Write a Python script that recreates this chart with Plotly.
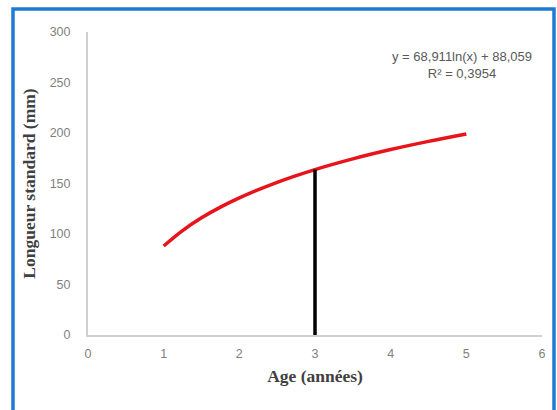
import plotly.graph_objects as go

# Values (trendline of length vs age)
ages = [1, 1.25, 1.5, 1.75, 2, 2.5, 3, 3.5, 4, 4.5, 5]
lengths = [88.1, 103.4, 116.0, 126.6, 135.8, 151.2, 163.8, 174.4, 183.6, 191.7, 199.0]

marker_age = [3, 3]
marker_len = [0, 163.8]

x_ticks = [0, 1, 2, 3, 4, 5, 6]
y_ticks = [0, 50, 100, 150, 200, 250, 300]

eq_text = "y = 68,911ln(x) + 88,059<br>R² = 0,3954"

W, H = 557, 410
L, R, T, B = 88, 15, 32, 75
pw, ph = W - L - R, H - T - B


def px(x):
    return (x - L) / pw


def py(y):
    return (H - B - y) / ph


fig = go.Figure()
fig.add_trace(go.Scatter(x=ages, y=lengths, mode="lines",
                         line=dict(color="#e8141b", width=3.5, shape="spline", smoothing=1.0),
                         showlegend=False, hoverinfo="skip"))
fig.add_trace(go.Scatter(x=marker_age, y=marker_len, mode="lines",
                         line=dict(color="black", width=3.5),
                         showlegend=False, hoverinfo="skip"))

tick_font = dict(family="Liberation Sans Narrow, Arial Narrow, Liberation Sans, sans-serif",
                 size=12.5, color="#7f7f7f")
title_font = dict(family="Liberation Serif, Times New Roman, serif",
                  size=17.5, color="#404040")

fig.update_layout(
    width=W, height=H,
    margin=dict(l=L, r=R, t=T, b=B),
    paper_bgcolor="white", plot_bgcolor="white",
    xaxis=dict(range=[0, 6], tickvals=x_ticks, showgrid=False, zeroline=False,
               showline=True, linecolor="#d0d0d0", linewidth=2,
               tickfont=tick_font, ticks="", ticklabelstandoff=6,
               title=dict(text="<b>Age (années)</b>", font=title_font, standoff=10)),
    yaxis=dict(range=[0, 300], tickvals=y_ticks, showgrid=False, zeroline=False,
               showline=True, linecolor="#d0d0d0", linewidth=2,
               tickfont=tick_font, ticks="", ticklabelstandoff=13,
               title=dict(text="<b>Longueur standard (mm)</b>", font=title_font, standoff=10)),
    shapes=[dict(type="rect", xref="paper", yref="paper",
                 x0=px(13), x1=px(554), y0=py(414), y1=py(9),
                 line=dict(color="#1e7bd2", width=3.5), layer="below")],
    annotations=[dict(text=eq_text, xref="paper", yref="paper",
                      x=px(462), y=py(65), xanchor="center", yanchor="middle",
                      showarrow=False, align="center",
                      font=dict(family="Liberation Sans Narrow, Arial Narrow, sans-serif",
                                size=13, color="#595959"))],
)

fig.write_html("out.html")
